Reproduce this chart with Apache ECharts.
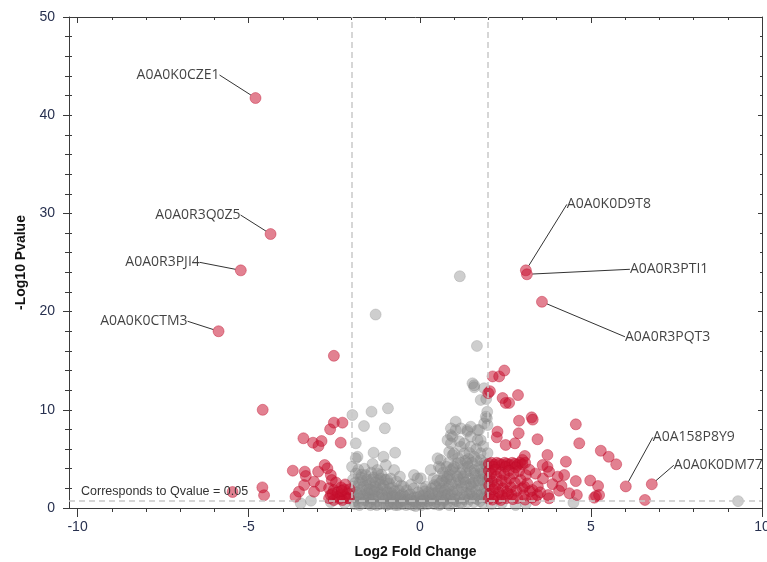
<!DOCTYPE html>
<html>
<head>
<meta charset="utf-8">
<script src="https://cdn.jsdelivr.net/npm/echarts@6/dist/echarts.min.js"></script>
<style>
html,body{margin:0;padding:0;background:#fff;}
#chart{width:767px;height:562px;}
</style>
</head>
<body>
<div id="chart"></div>
<script>
// ---- Data (Log2 Fold Change, -Log10 Pvalue) ----
const xMajorTicks = [-10, -5, 0, 5, 10];
const xMinorTicks = [-9, -8, -7, -6, -4, -3, -2, -1, 1, 2, 3, 4, 6, 7, 8, 9];
const foldThresholds = [-2, 2];
const pThreshold = 0.74;
const thresholdText = 'Corresponds to Qvalue = 0.05';

const grayPoints = [
  [-1.97,9.47],[-1.87,6.59],[-1.87,5.06],[-1.82,5.22],[-1.87,3.53],[-1.58,3.36],[-1.63,8.35],
  [-1.95,2.9],[-1.9,2.2],[-1.85,1.6],[-1.93,1.1],[-1.8,0.6],[-1.75,2.6],[-1.7,1.9],[-1.65,1.3],
  [-1.6,0.8],[-1.72,3.1],[-1.55,2.3],[-1.52,1.5],[-1.5,0.5],[-1.62,4.0],[-1.98,4.2],[-1.9,0.4],
  [-1.78,1.0],[-1.68,2.8],[-1.58,1.1],[-1.8,3.9],
  [-1.41,9.81],[-1.35,5.63],[-1.38,4.48],[-1.24,3.87],[-1.02,8.12],[-1.06,5.22],[-0.99,4.38],[-1.29,19.7],
  [-1.45,2.5],[-1.4,1.8],[-1.35,3.1],[-1.3,2.2],[-1.28,1.2],[-1.25,0.7],[-1.2,2.8],[-1.18,1.6],
  [-1.12,3.4],[-1.1,2.0],[-1.08,1.0],[-1.05,0.5],[-1.48,1.0],[-1.42,3.6],[-1.33,0.4],[-1.22,3.5],
  [-1.15,2.4],[-1.02,2.9],[-1.45,0.6],[-1.38,1.4],
  [-0.93,10.15],[-0.72,5.63],[-0.75,3.87],[-0.98,1.8],[-0.95,1.2],[-0.9,2.5],[-0.88,0.6],[-0.85,3.0],
  [-0.82,1.5],[-0.8,2.1],[-0.78,0.9],[-0.7,1.3],[-0.68,2.7],[-0.65,0.5],[-0.62,1.8],[-0.6,1.0],
  [-0.55,2.3],[-0.52,0.7],[-0.58,3.2],[-0.92,0.4],[-0.72,0.3],[-0.96,2.9],[-0.5,1.4],
  [-1.96,1.8],[-1.92,0.7],[-1.88,2.6],[-1.84,1.3],[-1.76,0.3],[-1.74,1.5],[-1.7,3.4],[-1.66,0.5],
  [-1.64,2.2],[-1.56,1.8],[-1.54,2.9],[-1.5,1.1],[-1.46,1.9],[-1.44,0.3],[-1.4,2.9],[-1.36,0.9],
  [-1.32,1.7],[-1.3,2.6],[-1.26,0.3],[-1.24,1.9],[-1.2,1.1],[-1.16,0.4],[-1.14,3.0],[-1.1,1.4],
  [-1.06,2.3],[-1.0,1.0],[-0.97,0.3],[-0.94,1.6],[-0.9,1.0],[-0.86,2.0],[-0.84,0.4],[-0.8,1.2],
  [-0.76,0.5],[-0.74,1.7],[-0.66,1.1],[-0.64,0.3],[-0.6,0.6],[-0.56,1.2],[-0.54,0.4],[-0.46,0.8],
  [-0.17,3.36],[-0.07,3.02],[0.03,3.02],[-0.45,1.2],[-0.42,0.6],[-0.38,1.8],[-0.35,0.9],[-0.3,0.4],
  [-0.28,1.4],[-0.22,0.7],[-0.18,2.0],[-0.15,1.1],[-0.1,0.5],[-0.05,1.6],[0,0.9],[0.05,0.3],
  [0.1,1.3],[0.12,0.6],[0.18,2.17],[0.2,1.0],[0.22,0.4],[-0.48,2.2],[-0.25,2.4],[0.08,2.0],
  [-0.12,0.2],[0.15,1.7],
  [-0.4,0.3],[-0.33,1.3],[-0.26,0.9],[-0.2,0.3],[-0.14,0.7],[-0.08,1.1],[-0.02,0.4],[0.02,1.2],
  [0.06,0.7],[0.14,0.9],[0.24,0.7],[0.26,1.6],
  [0.32,3.87],[0.42,2.34],[0.52,5.06],[0.56,4.21],[0.61,4.89],[0.61,4.04],[0.71,3.19],[0.81,6.92],
  [0.81,3.19],[0.86,5.73],[0.91,7.43],[0.91,8.11],[0.91,6.59],[0.96,7.26],[0.96,5.40],[0.91,3.87],
  [0.28,1.2],[0.3,0.5],[0.35,2.0],[0.38,1.0],[0.45,1.5],[0.48,0.6],[0.5,2.8],[0.55,1.2],
  [0.6,0.4],[0.62,2.0],[0.66,1.6],[0.7,0.8],[0.72,2.6],[0.75,1.3],[0.78,4.2],[0.8,0.5],
  [0.85,2.2],[0.88,1.0],[0.9,2.9],[0.95,1.7],[0.98,0.6],[0.68,3.6],[0.84,4.6],[0.4,3.0],
  [0.58,2.5],[0.76,2.0],
  [0.33,0.8],[0.36,1.5],[0.43,0.4],[0.46,2.2],[0.52,0.9],[0.54,1.7],[0.57,0.3],[0.63,1.2],
  [0.65,2.8],[0.68,0.6],[0.73,1.8],[0.77,0.9],[0.79,3.0],[0.82,1.4],[0.86,0.3],[0.87,3.4],
  [0.92,1.3],[0.94,2.4],[0.97,4.0],
  [1.05,8.79],[1.05,7.94],[1.0,5.57],[1.0,4.21],[1.10,4.55],[1.20,8.11],[1.20,6.24],[1.20,3.53],
  [1.30,6.59],[1.30,5.57],[1.39,7.77],[1.39,7.94],[1.39,4.55],[1.49,8.28],[1.49,7.26],[1.49,6.24],
  [1.17,23.6],[1.02,1.3],[1.05,2.5],[1.08,0.7],[1.1,3.2],[1.12,1.8],[1.15,1.0],[1.18,2.6],
  [1.22,0.5],[1.25,4.0],[1.25,1.6],[1.28,2.9],[1.32,1.1],[1.35,3.6],[1.38,2.2],[1.4,0.6],
  [1.42,5.0],[1.45,1.5],[1.46,3.0],[1.48,2.4],[1.12,5.1],[1.33,4.8],[1.15,6.8],[1.45,5.6],
  [1.0,0.9],[1.03,3.6],[1.07,1.9],[1.13,2.9],[1.16,0.5],[1.19,4.6],[1.23,2.1],[1.27,3.2],
  [1.3,0.9],[1.34,2.6],[1.37,1.5],[1.41,4.2],[1.44,0.9],[1.47,3.8],
  [1.54,12.7],[1.59,12.3],[1.59,12.5],[1.67,16.5],[1.88,12.2],[1.78,11.0],[1.96,9.13],[1.98,8.45],
  [1.88,8.62],[1.93,9.30],[1.69,7.94],[1.73,7.94],[1.78,6.92],[1.69,6.92],[1.78,5.57],[1.59,5.22],
  [1.88,4.55],[1.78,4.89],[1.98,4.21],[1.59,3.87],[1.59,3.53],[1.78,3.53],[1.52,2.2],[1.55,1.2],
  [1.58,0.6],[1.62,2.8],[1.65,1.7],[1.68,0.9],[1.72,2.3],[1.75,4.2],[1.8,1.4],[1.82,2.9],
  [1.85,0.5],[1.9,1.9],[1.92,3.2],[1.95,1.0],[1.97,2.6],[1.98,5.6],[1.85,6.3],[1.65,6.0],
  [1.94,11.1],[1.97,9.8],
  [1.51,1.7],[1.53,4.6],[1.57,2.6],[1.6,1.0],[1.63,3.3],[1.66,4.8],[1.7,1.3],[1.73,2.8],
  [1.76,0.7],[1.79,3.9],[1.83,1.9],[1.86,3.5],[1.89,1.1],[1.91,2.5],[1.94,4.4],[1.96,1.6],[1.99,3.0],
  [-3.18,0.74],[-3.48,0.48],[4.49,0.54],[9.30,0.70],[2.1,0.4],[2.4,0.5],[2.8,0.3],[3.1,0.45],
  [-2.2,0.5],[-2.6,0.6]
];

const redPoints = [
  [-2.51,15.5],[-4.59,10.0],[-5.47,1.63],[-4.6,2.1],[-4.55,1.3],
  [-2.51,8.69],[-2.26,8.69],[-2.62,8.01],[-3.40,7.10],[-3.12,6.65],[-2.87,6.82],[-2.96,6.31],[-2.31,6.65],
  [-3.71,3.80],[-3.36,3.70],[-3.33,3.26],[-2.97,3.70],[-2.78,4.38],[-2.70,4.04],[-2.60,3.36],[-2.57,2.85],
  [-3.09,2.68],[-3.38,2.34],[-2.89,2.24],[-2.65,2.01],[-2.51,1.83],[-2.21,1.90],[-3.53,1.66],[-3.63,1.15],
  [-3.09,1.66],[-2.60,1.32],[-2.41,1.15],[-2.31,1.32],[-2.11,1.50],[-2.07,0.99],[-2.65,0.99],[-2.51,0.81],
  [-2.26,0.81],[-2.2,1.2],[-2.4,1.6],[-2.3,2.1],[-2.12,1.0],[-2.35,0.95],[-2.45,2.6],[-2.18,2.4],
  [-2.05,1.9],[-2.55,1.45],[-2.28,1.75],
  [2.13,13.4],[2.32,13.4],[2.47,14.0],[2.0,11.7],[2.05,11.9],[2.42,11.2],[2.51,10.7],[2.61,10.7],
  [2.87,11.5],[2.90,8.89],[3.27,9.23],[3.30,9.0],[2.27,7.77],[2.25,7.20],[2.89,7.61],[3.44,7.0],
  [4.56,8.52],[4.66,6.59],[2.51,6.42],[2.78,6.59],[5.29,5.83],[5.52,5.22],[5.74,4.45],[3.73,5.40],
  [4.27,4.72],[3.07,5.3],[3.73,4.19],[3.78,3.70],[3.59,4.38],[4.22,3.36],[4.03,3.19],[3.88,2.43],
  [4.14,2.24],[4.56,2.74],[4.98,2.80],[5.21,2.24],[4.37,1.50],[4.59,1.32],[4.07,1.76],[5.10,1.05],
  [5.15,1.22],[5.24,1.32],[3.75,1.32],[3.78,0.99],[3.44,1.32],[3.29,1.83],[3.38,0.81],[2.37,0.81],
  [6.58,0.82],[3.05,2.17],[3.0,4.9],
  [2.02,4.5],[2.1,4.6],[2.18,4.4],[2.25,4.6],[2.32,4.5],[2.4,4.4],[2.48,4.6],[2.55,4.5],
  [2.62,4.4],[2.7,4.6],[2.78,4.5],[2.86,4.4],[2.93,4.6],[3.0,4.45],[3.08,4.6],[2.15,4.2],
  [2.5,4.2],[2.8,4.15],
  [2.02,3.8],[2.04,3.1],[2.03,2.3],[2.06,1.5],[2.02,0.95],[2.09,3.5],[2.11,2.7],[2.14,1.9],
  [2.17,1.2],[2.21,3.9],[2.24,3.2],[2.27,2.4],[2.31,1.6],[2.29,0.95],[2.36,3.6],[2.39,2.8],
  [2.43,2.0],[2.41,1.25],[2.47,3.4],[2.52,2.6],[2.55,1.7],[2.53,1.0],[2.6,3.8],[2.63,3.0],
  [2.66,2.1],[2.69,1.35],[2.74,3.5],[2.78,2.55],[2.82,1.75],[2.85,1.0],[2.9,3.75],[2.95,2.85],
  [3.0,2.0],[3.04,1.3],[3.1,3.35],[3.14,2.5],[3.22,1.7],[3.28,1.05],[3.38,3.5],[3.45,2.2],
  [3.52,1.6],[3.6,3.0],[3.2,3.9],[2.12,0.85],[2.72,0.9],[3.08,0.85],[2.2,2.05],[2.58,1.45]
];

const labeledNames = ['A0A0K0CZE1','A0A0R3Q0Z5','A0A0R3PJI4','A0A0K0CTM3','A0A0K0D9T8','A0A0R3PTI1','A0A0R3PQT3','A0A158P8Y9','A0A0K0DM77'];
const labeledPoints = [[-4.80,41.75],[-4.36,27.9],[-5.23,24.2],[-5.88,18.0],[3.10,24.2],[3.13,23.8],[3.57,21.0],[6.02,2.20],[6.78,2.42]];

// ---- Label placement (pixel offsets from the point; layout only) ----
const labelPlacement = [
  {dx:-36, dy:-23, align:'right', l0:[-33,-18], l1:[-5,-2]},
  {dx:-30, dy:-19, align:'right', l0:[-27,-17], l1:[-5,-4]},
  {dx:-41, dy:-8,  align:'right', l0:[-37,-5],  l1:[-7,-1]},
  {dx:-31, dy:-10, align:'right', l0:[-28,-8],  l1:[-6,-2]},
  {dx:41,  dy:-66, align:'left',  l0:[40,-54],  l1:[3,-5]},
  {dx:103, dy:-5,  align:'left',  l0:[96,-4],   l1:[7,1]},
  {dx:83,  dy:35,  align:'left',  l0:[77,36],   l1:[7,5]},
  {dx:27,  dy:-49, align:'left',  l0:[25,-42],  l1:[4,-6]},
  {dx:22,  dy:-19, align:'left',  l0:[17,-12],  l1:[5,-3]}
];

const chart = echarts.init(document.getElementById('chart'), null, {renderer:'canvas'});
const axisColor = '#3a3a3a';
const tickLabelColor = '#27304f';
const FONT = 'Liberation Sans, Arial, sans-serif';
const xMin = -10.25, xMax = 10;
const redStyle = {color:'rgba(200,16,46,0.66)', borderColor:'rgba(190,10,40,0.7)', borderWidth:0.7};
const grayStyle = {color:'rgba(136,136,136,0.52)', borderColor:'rgba(136,136,136,0.52)', borderWidth:0.7};

function xAx(extra){
  return Object.assign({type:'value', min:xMin, max:xMax, splitLine:{show:false},
    axisLine:{show:false, onZero:false, lineStyle:{color:axisColor, width:1}},
    axisLabel:{show:false}}, extra);
}
function yAx(extra){
  return Object.assign({type:'value', min:0, max:50, interval:10, splitLine:{show:false},
    axisLine:{show:false, onZero:false, lineStyle:{color:axisColor, width:1}},
    axisLabel:{show:false}}, extra);
}

const option = {
  animation:false,
  backgroundColor:'#fff',
  grid:{left:69, right:5, top:17, bottom:54, containLabel:false, outerBoundsMode:'none'},
  xAxis:[
    xAx({position:'bottom', axisLine:{show:true, onZero:false, lineStyle:{color:axisColor}},
      axisTick:{show:true, customValues:xMajorTicks, length:9, lineStyle:{color:axisColor}},
      axisLabel:{show:true, customValues:xMajorTicks, color:tickLabelColor, fontSize:14, fontFamily:FONT, margin:12},
      name:'Log2 Fold Change', nameLocation:'middle', nameGap:37,
      nameTextStyle:{fontSize:14, fontWeight:'bold', color:'#111', fontFamily:FONT}}),
    xAx({position:'bottom', axisTick:{show:true, customValues:xMinorTicks, length:4, lineStyle:{color:axisColor}}}),
    xAx({position:'top', axisLine:{show:true, onZero:false, lineStyle:{color:axisColor}},
      axisTick:{show:true, inside:true, customValues:xMajorTicks, length:6, lineStyle:{color:axisColor}}}),
    xAx({position:'top', axisTick:{show:true, inside:true, customValues:xMinorTicks, length:3, lineStyle:{color:axisColor}}})
  ],
  yAxis:[
    yAx({position:'left', axisLine:{show:true, onZero:false, lineStyle:{color:axisColor}},
      axisTick:{show:true, length:6, lineStyle:{color:axisColor}},
      minorTick:{show:true, splitNumber:5, length:4, lineStyle:{color:axisColor}},
      axisLabel:{show:true, color:tickLabelColor, fontSize:14, fontFamily:FONT, margin:14},
      name:'-Log10 Pvalue', nameLocation:'middle', nameGap:40,
      nameTextStyle:{fontSize:14, fontWeight:'bold', color:'#111', fontFamily:FONT}}),
    yAx({position:'left', axisTick:{show:true, inside:true, length:3, lineStyle:{color:axisColor}},
      minorTick:{show:true, splitNumber:5, length:3, lineStyle:{color:axisColor}}}),
    yAx({position:'right', axisLine:{show:true, onZero:false, lineStyle:{color:axisColor}},
      axisTick:{show:true, inside:true, length:4, lineStyle:{color:axisColor}},
      minorTick:{show:true, splitNumber:5, length:2, lineStyle:{color:axisColor}}})
  ],
  series:[
    {type:'scatter', name:'ns', data:grayPoints, symbolSize:11, itemStyle:grayStyle, z:2},
    {type:'scatter', name:'sig', data:redPoints, symbolSize:11, itemStyle:redStyle, z:3},
    {type:'scatter', name:'labeled', z:4, symbolSize:11, itemStyle:redStyle,
      data:labeledPoints.map((p,i)=>({name:labeledNames[i], value:p})),
      label:{show:true, formatter:'{b}', color:'#111', fontSize:14, fontFamily:'Open Sans, Noto Sans, sans-serif'},
      labelLine:{show:true, lineStyle:{color:'#333', width:1}},
      labelLayout:function(params){
        const o = labelPlacement[params.dataIndex];
        const cx = params.rect.x + params.rect.width/2;
        const cy = params.rect.y + params.rect.height/2;
        return {x:cx+o.dx, y:cy+o.dy, align:o.align, verticalAlign:'middle',
          labelLinePoints:[[cx+o.l0[0],cy+o.l0[1]],[(cx+o.l0[0]+cx+o.l1[0])/2,(cy+o.l0[1]+cy+o.l1[1])/2],[cx+o.l1[0],cy+o.l1[1]]]};
      }
    },
    {type:'scatter', name:'thresholds', data:[], z:10,
      markLine:{silent:true, symbol:['none','none'], animation:false,
        lineStyle:{type:[6,4], color:'#c9c9c9', width:1.5},
        data:[
          {xAxis:foldThresholds[0], label:{show:false}},
          {xAxis:foldThresholds[1], label:{show:false}},
          {yAxis:pThreshold, label:{show:true, position:'insideStartTop', formatter:thresholdText,
            color:'#333', fontSize:12.5, fontFamily:FONT, distance:3, padding:[0,0,0,9]}}
        ]}
    }
  ]
};
chart.setOption(option);
</script>
</body>
</html>
